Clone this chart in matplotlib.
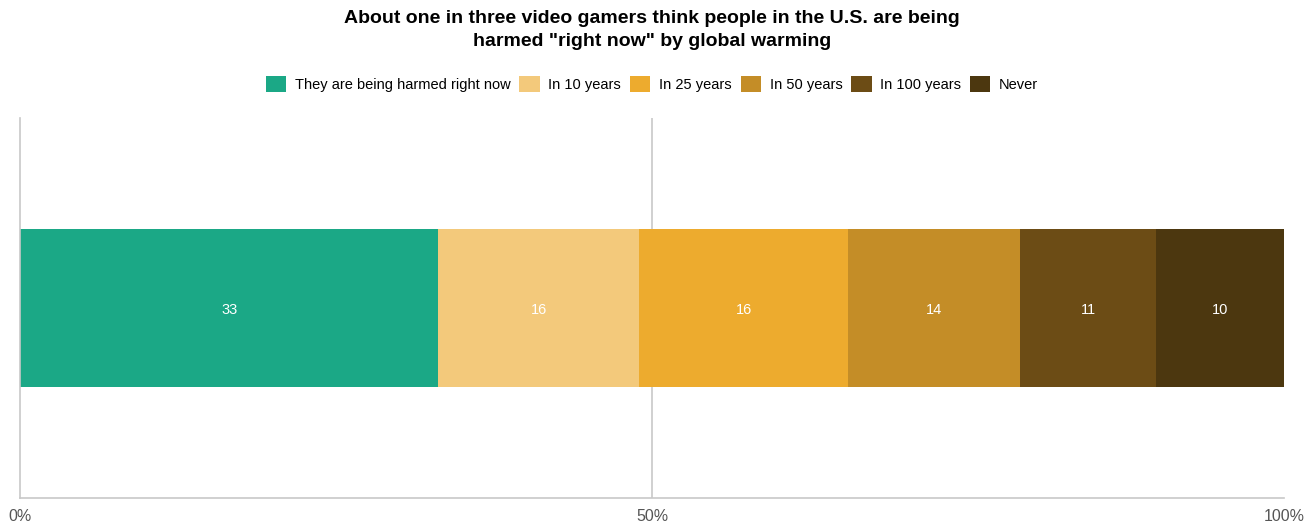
import matplotlib
matplotlib.use("Agg")
import matplotlib.pyplot as plt
from matplotlib.patches import Patch

plt.rcParams['font.family'] = ['Liberation Sans', 'DejaVu Sans']

categories = ["They are being harmed right now", "In 10 years", "In 25 years",
              "In 50 years", "In 100 years", "Never"]
values = [33.1, 15.9, 16.5, 13.6, 10.8, 10.1]
labels = ["33", "16", "16", "14", "11", "10"]
colors = ["#1BA886", "#F3C97B", "#EDAB2E", "#C48D27", "#6C4C15", "#4C370F"]
ticks = [0, 50, 100]
tick_labels = ["0%", "50%", "100%"]

fig = plt.figure(figsize=(13.12, 5.25), dpi=100)
ax = fig.add_axes([20/1312, 1-498/525, 1264/1312, 380/525])

left = 0
for v, lab, c in zip(values, labels, colors):
    ax.barh(0, v, left=left, height=1.0, color=c, edgecolor='none', zorder=2)
    ax.text(left + v/2, -0.01, lab, ha='center', va='center', color='white', fontsize=10.5, zorder=3)
    left += v

ax.set_xlim(0, 100)
ax.set_ylim(-1.2, 1.2)
ax.set_yticks([])
ax.set_xticks(ticks)
ax.set_xticklabels(tick_labels, color='#555555', fontsize=11.5)
ax.tick_params(axis='x', length=0, pad=8)
ax.axvline(50, color='#c8c8c8', lw=1.2, zorder=1)
for s in ['top', 'right']:
    ax.spines[s].set_visible(False)
for s in ['left', 'bottom']:
    ax.spines[s].set_color('#c8c8c8')
    ax.spines[s].set_linewidth(1.2)

handles = [Patch(facecolor=c, edgecolor='none') for c in colors]
fig.legend(handles, categories, loc='center', bbox_to_anchor=(652/1312, 1-84/525),
           ncol=6, frameon=False, fontsize=10.5, handlelength=1.4, handleheight=1.4,
           handletextpad=0.6, columnspacing=0.6)

fig.text(652/1312, 1-30/525, 'About one in three video gamers think people in the U.S. are being\nharmed "right now" by global warming',
         ha='center', va='center', fontsize=14, fontweight='bold', linespacing=1.4)

fig.savefig("out.png", dpi=100)
